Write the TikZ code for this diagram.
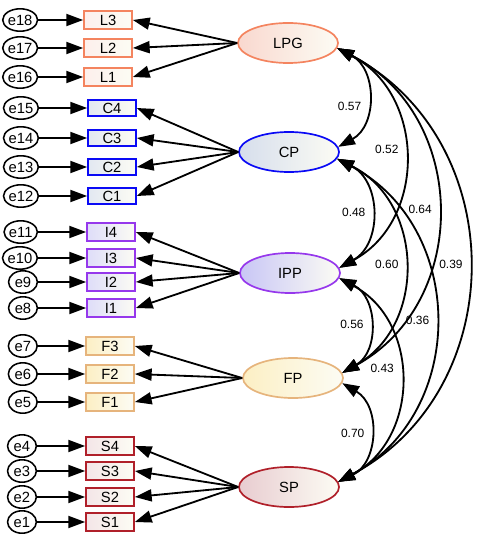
\documentclass[tikz,border=0pt]{standalone}
\usepackage{fontspec}
\setmainfont{Liberation Sans}
\usetikzlibrary{positioning, shapes.geometric, arrows.meta}

\definecolor{lpgline}{HTML}{F4845F}
\definecolor{lpgfill}{HTML}{F9D8CF}
\definecolor{cpline}{HTML}{0A0AF5}
\definecolor{cpfill}{HTML}{D6DEEC}
\definecolor{ippline}{HTML}{9638EC}
\definecolor{ippfill}{HTML}{C8C6F5}
\definecolor{fpline}{HTML}{E6B47C}
\definecolor{fpfill}{HTML}{FCEFC4}
\definecolor{spline}{HTML}{B0202A}
\definecolor{spfill}{HTML}{E8CCD0}
\definecolor{paper}{HTML}{FCFCF4}

\tikzset{
  latent/.style={ellipse, draw, line width=1.2pt, minimum width=2.5cm, minimum height=1cm, right color=paper, font=\fontsize{10.5}{12}\selectfont},
  item/.style={rectangle, draw, line width=1.2pt, minimum width=1.2cm, minimum height=0.45cm, inner sep=0pt, right color=paper, font=\fontsize{10.5}{12}\selectfont},
  err/.style={ellipse, draw, line width=1.1pt, minimum width=0.72cm, minimum height=0.56cm, inner sep=0pt, font=\fontsize{10.5}{12}\selectfont},
  load/.style={->, line width=1.3pt},
  cov/.style={<->, line width=1.3pt, bend left=62, looseness=1.16},
  coef/.style={left, font=\fontsize{8.5}{10}\selectfont}
}

\begin{document}
\begin{tikzpicture}[x=0.025cm, y=-0.025cm, >={Triangle[length=4.2mm, width=3mm]}]
\useasboundingbox (0,0) rectangle (484,550);

% latent factors
\node[latent, draw=lpgline, left color=lpgfill] (LPG) at (288,43) {LPG};
\node[latent, draw=cpline, left color=cpfill] (CP) at (289,152) {CP};
\node[latent, draw=ippline, left color=ippfill] (IPP) at (290,273) {IPP};
\node[latent, draw=fpline, left color=fpfill] (FP) at (293,378) {FP};
\node[latent, draw=spline, left color=spfill] (SP) at (289,487) {SP};

% LPG items
\node[item, draw=lpgline, left color=lpgfill!40] (L3) at (108,20) {L3};
\node[item, draw=lpgline, left color=lpgfill!40] (L2) at (108,48) {L2};
\node[item, draw=lpgline, left color=lpgfill!40] (L1) at (108,77) {L1};
\node[err, left=1.12cm of L3] (e18) {e18};
\node[err, left=1.12cm of L2] (e17) {e17};
\node[err, left=1.12cm of L1] (e16) {e16};

% CP items
\node[item, draw=cpline, left color=cpfill!70, minimum height=0.4cm] (C4) at (112,108) {C4};
\node[item, draw=cpline, left color=cpfill!70, minimum height=0.4cm] (C3) at (112,138) {C3};
\node[item, draw=cpline, left color=cpfill!70, minimum height=0.4cm] (C2) at (112,167) {C2};
\node[item, draw=cpline, left color=cpfill!70, minimum height=0.4cm] (C1) at (112,196) {C1};
\node[err, left=1.2cm of C4] (e15) {e15};
\node[err, left=1.2cm of C3] (e14) {e14};
\node[err, left=1.2cm of C2] (e13) {e13};
\node[err, left=1.2cm of C1] (e12) {e12};

% IPP items
\node[item, draw=ippline, left color=ippfill!60] (I4) at (111,232) {I4};
\node[item, draw=ippline, left color=ippfill!60] (I3) at (111,258) {I3};
\node[item, draw=ippline, left color=ippfill!60] (I2) at (111,282) {I2};
\node[item, draw=ippline, left color=ippfill!60] (I1) at (111,308) {I1};
\node[err, left=1.2cm of I4] (e11) {e11};
\node[err, left=1.2cm of I3] (e10) {e10};
\node[err, left=1.2cm of I2] (e9) {e9};
\node[err, left=1.2cm of I1] (e8) {e8};

% FP items
\node[item, draw=fpline, left color=fpfill] (F3) at (110,346) {F3};
\node[item, draw=fpline, left color=fpfill] (F2) at (110,374) {F2};
\node[item, draw=fpline, left color=fpfill] (F1) at (110,402) {F1};
\node[err, left=1.18cm of F3] (e7) {e7};
\node[err, left=1.18cm of F2] (e6) {e6};
\node[err, left=1.18cm of F1] (e5) {e5};

% SP items
\node[item, draw=spline, left color=spfill!50] (S4) at (110,446) {S4};
\node[item, draw=spline, left color=spfill!50] (S3) at (110,471) {S3};
\node[item, draw=spline, left color=spfill!50] (S2) at (110,497) {S2};
\node[item, draw=spline, left color=spfill!50] (S1) at (110,522) {S1};
\node[err, left=1.2cm of S4] (e4) {e4};
\node[err, left=1.2cm of S3] (e3) {e3};
\node[err, left=1.2cm of S2] (e2) {e2};
\node[err, left=1.2cm of S1] (e1) {e1};

% error terms
\draw[load] (e18) -- (L3);
\draw[load] (e17) -- (L2);
\draw[load] (e16) -- (L1);
\draw[load] (e15) -- (C4);
\draw[load] (e14) -- (C3);
\draw[load] (e13) -- (C2);
\draw[load] (e12) -- (C1);
\draw[load] (e11) -- (I4);
\draw[load] (e10) -- (I3);
\draw[load] (e9) -- (I2);
\draw[load] (e8) -- (I1);
\draw[load] (e7) -- (F3);
\draw[load] (e6) -- (F2);
\draw[load] (e5) -- (F1);
\draw[load] (e4) -- (S4);
\draw[load] (e3) -- (S3);
\draw[load] (e2) -- (S2);
\draw[load] (e1) -- (S1);

% loadings
\draw[load] (LPG.west) -- (L3.east);
\draw[load] (LPG.west) -- (L2.east);
\draw[load] (LPG.west) -- (L1.east);
\draw[load] (CP.west) -- (C4.east);
\draw[load] (CP.west) -- (C3.east);
\draw[load] (CP.west) -- (C2.east);
\draw[load] (CP.west) -- (C1.east);
\draw[load] (IPP.west) -- (I4.east);
\draw[load] (IPP.west) -- (I3.east);
\draw[load] (IPP.west) -- (I2.east);
\draw[load] (IPP.west) -- (I1.east);
\draw[load] (FP.west) -- (F3.east);
\draw[load] (FP.west) -- (F2.east);
\draw[load] (FP.west) -- (F1.east);
\draw[load] (SP.west) -- (S4.east);
\draw[load] (SP.west) -- (S3.east);
\draw[load] (SP.west) -- (S2.east);
\draw[load] (SP.west) -- (S1.east);

% correlations
\draw[cov] (LPG.-6) to node[coef, pos=0.58] {0.57} (CP.6);
\draw[cov] (LPG.-6) to node[coef, pos=0.47] {0.52} (IPP.6);
\draw[cov] (LPG.-6) to node[coef] {0.64} (FP.6);
\draw[cov] (LPG.-6) to node[coef] {0.39} (SP.6);
\draw[cov] (CP.-8) to node[coef] {0.48} (IPP.6);
\draw[cov] (CP.-8) to node[coef] {0.60} (FP.6);
\draw[cov] (CP.-8) to node[coef] {0.36} (SP.6);
\draw[cov] (IPP.-6) to node[coef] {0.56} (FP.6);
\draw[cov] (IPP.-6) to node[coef, pos=0.45] {0.43} (SP.6);
\draw[cov] (FP.-6) to node[coef] {0.70} (SP.6);

\end{tikzpicture}
\end{document}
